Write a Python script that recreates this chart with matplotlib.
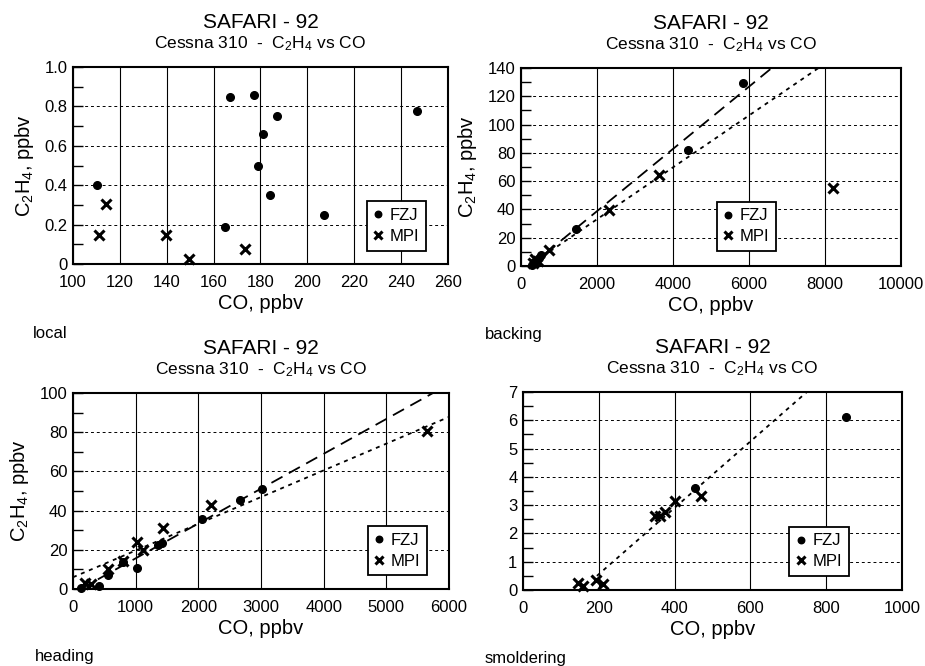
import matplotlib
matplotlib.use("Agg")
import matplotlib.pyplot as plt
from matplotlib import ticker

plt.rcParams["font.family"] = ["Liberation Sans", "DejaVu Sans"]
plt.rcParams["mathtext.fontset"] = "custom"
plt.rcParams["mathtext.rm"] = "Liberation Sans"
plt.rcParams["mathtext.it"] = "Liberation Sans:italic"
plt.rcParams["mathtext.bf"] = "Liberation Sans:bold"

# --- local ---
local_fzj_co = [110.2, 167.0, 177.1, 187.0, 181.1, 179.1, 184.0, 164.9, 206.9, 246.8]
local_fzj_c2h4 = [0.40, 0.848, 0.86, 0.75, 0.66, 0.50, 0.348, 0.188, 0.247, 0.777]
local_mpi_co = [111.2, 114.2, 139.6, 149.4, 173.4]
local_mpi_c2h4 = [0.147, 0.306, 0.145, 0.024, 0.078]

# --- backing ---
backing_fzj_co = [300, 350, 420, 480, 540, 1440, 4390, 5856]
backing_fzj_c2h4 = [1.0, 2.5, 4.5, 6.0, 7.5, 26.2, 82.3, 129.2]
backing_mpi_co = [330, 380, 450, 737, 2318, 3635, 8209]
backing_mpi_c2h4 = [2.0, 5.0, 3.5, 11.1, 39.8, 64.6, 55.2]
backing_fzj_fit_co = [240, 6600]
backing_fzj_fit_c2h4 = [0, 140]
backing_mpi_fit_co = [200, 7830]
backing_mpi_fit_c2h4 = [0, 140]

# --- heading ---
heading_fzj_co = [122, 420, 553, 792, 1016, 1362, 1415, 2064, 2666, 3011]
heading_fzj_c2h4 = [0.7, 1.5, 7.1, 13.9, 10.5, 22.4, 23.6, 35.5, 45.2, 51.0]
heading_mpi_co = [191, 282, 564, 803, 1016, 1122, 1435, 2197, 5655]
heading_mpi_c2h4 = [2.9, 2.5, 10.0, 14.3, 23.8, 19.9, 31.0, 42.9, 80.4]
heading_fzj_fit_co = [120, 5745]
heading_fzj_fit_c2h4 = [0, 100]
heading_mpi_fit_co = [0, 6000]
heading_mpi_fit_c2h4 = [6.0, 87.8]

# --- smoldering ---
smold_fzj_co = [453, 853]
smold_fzj_c2h4 = [3.62, 6.13]
smold_mpi_co = [144, 159, 193, 212, 348, 362, 376, 402, 470]
smold_mpi_c2h4 = [0.24, 0.14, 0.35, 0.21, 2.62, 2.63, 2.77, 3.13, 3.31]
smold_mpi_fit_co = [195, 749]
smold_mpi_fit_c2h4 = [0.5, 7.0]

FZJ_DASH = (0, (7, 4))
MPI_DOT = (0, (2.2, 2.6))


def draw_panel(ax, fzj_co, fzj_c2h4, mpi_co, mpi_c2h4, fits,
               xlim, xstep, ylim, ystep, legend_pos, ylabel=True, yfmt=None):
  for xs, ys, style in fits:
    ax.plot(xs, ys, color="k", lw=1.3, linestyle=style, zorder=2)

  ax.plot(fzj_co, fzj_c2h4, linestyle="none", marker="o", ms=5.5,
          color="k", label="FZJ", zorder=3, clip_on=False)
  ax.plot(mpi_co, mpi_c2h4, linestyle="none", marker="x", ms=7, mew=2.2,
          color="k", label="MPI", zorder=3, clip_on=False)

  ax.set_xlim(*xlim)
  ax.set_ylim(*ylim)
  ax.xaxis.set_major_locator(ticker.MultipleLocator(xstep))
  ax.yaxis.set_major_locator(ticker.MultipleLocator(ystep))
  ax.yaxis.set_minor_locator(ticker.MultipleLocator(ystep / 2))
  if yfmt is not None:
    ax.yaxis.set_major_formatter(ticker.FuncFormatter(yfmt))

  ax.grid(axis="x", which="major", color="k", lw=0.8, ls="-")
  ax.grid(axis="y", which="major", color="k", lw=0.7, ls=(0, (3, 3)))
  ax.set_axisbelow(True)

  ax.tick_params(axis="y", which="both", direction="in", length=7, width=1,
                 labelsize=12, pad=4, right=False)
  ax.tick_params(axis="x", which="both", direction="in", length=0,
                 labelsize=12, pad=8, top=False)
  for spine in ax.spines.values():
    spine.set_linewidth(1.5)

  ax.set_xlabel("CO, ppbv", fontsize=14.5, labelpad=3)
  if ylabel:
    ax.set_ylabel(r"$\mathregular{C_2H_4}$, ppbv", fontsize=14.5, labelpad=6)

  ax.annotate("SAFARI - 92", xy=(0.5, 1), xycoords="axes fraction",
              xytext=(0, 32), textcoords="offset points",
              ha="center", va="center", fontsize=15)
  ax.annotate(r"Cessna 310  -  $\mathregular{C_2H_4}$ vs CO", xy=(0.5, 1),
              xycoords="axes fraction", xytext=(0, 17), textcoords="offset points",
              ha="center", va="center", fontsize=12.5)

  leg = ax.legend(loc="lower left", bbox_to_anchor=legend_pos, borderaxespad=0,
                  fontsize=12, handlelength=0.6, handletextpad=0.4,
                  labelspacing=0.35, borderpad=0.4, fancybox=False,
                  framealpha=1, edgecolor="k", markerscale=0.85)
  leg.get_frame().set_linewidth(1.3)


def fmt_local(value, _):
  if abs(value) < 1e-9:
    return "0"
  return f"{value:.1f}"


fig = plt.figure(figsize=(9.25, 6.66), dpi=100)

ax1 = fig.add_axes([0.0789, 0.6036, 0.4054, 0.2958])
draw_panel(ax1, local_fzj_co, local_fzj_c2h4, local_mpi_co, local_mpi_c2h4, [],
           (100, 260), 20, (0, 1.0), 0.2, (0.783, 0.068), yfmt=fmt_local)

ax2 = fig.add_axes([0.5632, 0.6006, 0.4108, 0.2973])
draw_panel(ax2, backing_fzj_co, backing_fzj_c2h4, backing_mpi_co, backing_mpi_c2h4,
           [(backing_fzj_fit_co, backing_fzj_fit_c2h4, FZJ_DASH),
            (backing_mpi_fit_co, backing_mpi_fit_c2h4, MPI_DOT)],
           (0, 10000), 2000, (0, 140), 20, (0.515, 0.076))

ax3 = fig.add_axes([0.0789, 0.1156, 0.4065, 0.2943])
draw_panel(ax3, heading_fzj_co, heading_fzj_c2h4, heading_mpi_co, heading_mpi_c2h4,
           [(heading_fzj_fit_co, heading_fzj_fit_c2h4, FZJ_DASH),
            (heading_mpi_fit_co, heading_mpi_fit_c2h4, MPI_DOT)],
           (0, 6000), 1000, (0, 100), 20, (0.784, 0.07))

ax4 = fig.add_axes([0.5654, 0.1141, 0.4097, 0.2973])
draw_panel(ax4, smold_fzj_co, smold_fzj_c2h4, smold_mpi_co, smold_mpi_c2h4,
           [(smold_mpi_fit_co, smold_mpi_fit_c2h4, MPI_DOT)],
           (0, 1000), 200, (0, 7), 1, (0.703, 0.071), ylabel=False)

for label, x, y in [("local", 33, 333), ("backing", 485, 334),
                    ("heading", 35, 657), ("smoldering", 485, 658)]:
  fig.text(x / 925, 1 - y / 666, label, ha="left", va="center", fontsize=12)

plt.savefig("out.png", dpi=100)
